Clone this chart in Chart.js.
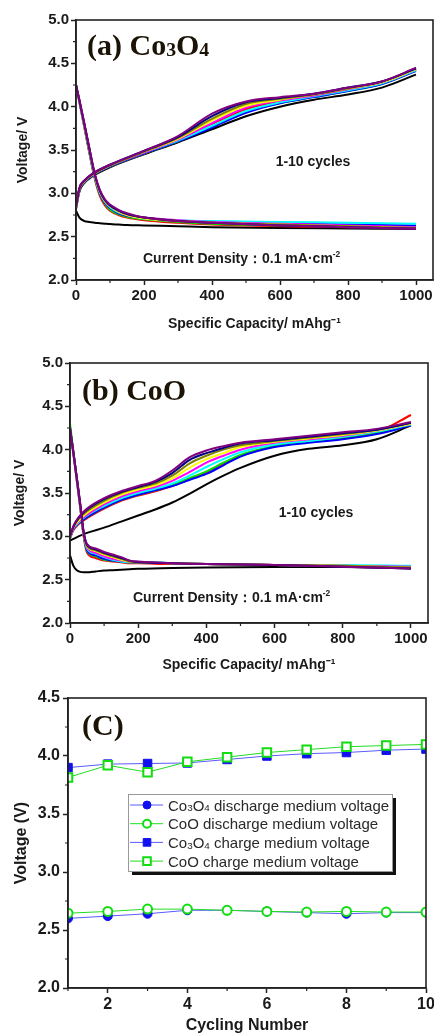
<!DOCTYPE html>
<html>
<head>
<meta charset="utf-8">
<script src="https://cdn.jsdelivr.net/npm/chart.js@4.4.1/dist/chart.umd.min.js"></script>
<style>
  body { margin: 0; background: #fff; width: 434px; height: 1034px; overflow: hidden; position: relative; }
  .panel { position: absolute; left: 0; width: 434px; }
</style>
</head>
<body>
<div class="panel" style="top:0;height:335px"><canvas id="chartA"></canvas></div>
<div class="panel" style="top:335px;height:345px"><canvas id="chartB"></canvas></div>
<div class="panel" style="top:680px;height:354px"><canvas id="chartC"></canvas></div>
<script>
// ---- data ----
const cycleColors = ["#000000", "#ff0000", "#00e000", "#0000ff", "#00ffff",
  "#ff00ff", "#ffff00", "#808000", "#000080", "#800080"];

// (a) Co3O4
const aChargeCap = [0, 10, 25, 50, 100, 200, 300, 400, 500, 600, 700, 800, 900, 1000];
const aCharge = [
  [2.82, 3.02, 3.12, 3.20, 3.30, 3.45, 3.59, 3.74, 3.89, 4.00, 4.08, 4.14, 4.22, 4.37],
  [2.83, 3.04, 3.13, 3.21, 3.31, 3.46, 3.61, 3.80, 3.97, 4.06, 4.12, 4.19, 4.27, 4.43],
  [2.83, 3.04, 3.13, 3.21, 3.31, 3.46, 3.60, 3.77, 3.94, 4.04, 4.11, 4.18, 4.26, 4.42],
  [2.83, 3.04, 3.13, 3.21, 3.31, 3.46, 3.60, 3.76, 3.93, 4.04, 4.11, 4.18, 4.26, 4.41],
  [2.84, 3.05, 3.14, 3.22, 3.32, 3.47, 3.61, 3.78, 3.95, 4.05, 4.12, 4.19, 4.27, 4.42],
  [2.84, 3.05, 3.14, 3.22, 3.32, 3.47, 3.62, 3.81, 3.99, 4.07, 4.13, 4.20, 4.28, 4.43],
  [2.84, 3.05, 3.14, 3.22, 3.32, 3.48, 3.63, 3.84, 4.01, 4.08, 4.14, 4.21, 4.28, 4.43],
  [2.85, 3.05, 3.14, 3.22, 3.32, 3.48, 3.64, 3.86, 4.03, 4.09, 4.14, 4.21, 4.29, 4.44],
  [2.85, 3.06, 3.15, 3.23, 3.33, 3.49, 3.65, 3.89, 4.05, 4.10, 4.15, 4.22, 4.29, 4.44],
  [2.85, 3.06, 3.15, 3.23, 3.33, 3.49, 3.66, 3.92, 4.06, 4.11, 4.15, 4.22, 4.29, 4.45]
];
const aDischargeCap = [0, 10, 25, 40, 55, 70, 85, 100, 125, 150, 200, 300, 400, 600, 800, 1000];
const aDischarge = [
  [2.80, 2.72, 2.68, 2.67, 2.66, 2.655, 2.65, 2.645, 2.64, 2.635, 2.63, 2.62, 2.61, 2.60, 2.595, 2.59],
  [4.25, 4.05, 3.75, 3.45, 3.17, 2.97, 2.86, 2.80, 2.75, 2.72, 2.69, 2.66, 2.64, 2.62, 2.61, 2.59],
  [4.25, 4.06, 3.76, 3.46, 3.18, 2.99, 2.88, 2.81, 2.76, 2.73, 2.70, 2.67, 2.65, 2.63, 2.62, 2.61],
  [4.25, 4.06, 3.77, 3.47, 3.19, 3.00, 2.89, 2.83, 2.77, 2.74, 2.71, 2.68, 2.66, 2.65, 2.64, 2.63],
  [4.25, 4.06, 3.77, 3.48, 3.20, 3.01, 2.90, 2.84, 2.78, 2.75, 2.71, 2.69, 2.68, 2.67, 2.66, 2.65],
  [4.25, 4.07, 3.78, 3.49, 3.21, 3.02, 2.91, 2.85, 2.79, 2.75, 2.72, 2.69, 2.67, 2.65, 2.63, 2.61],
  [4.25, 4.07, 3.78, 3.49, 3.21, 3.02, 2.91, 2.85, 2.79, 2.75, 2.71, 2.68, 2.66, 2.64, 2.62, 2.60],
  [4.25, 4.07, 3.79, 3.50, 3.22, 3.03, 2.92, 2.86, 2.80, 2.76, 2.72, 2.68, 2.66, 2.64, 2.62, 2.60],
  [4.25, 4.07, 3.79, 3.50, 3.22, 3.03, 2.92, 2.86, 2.80, 2.76, 2.72, 2.68, 2.66, 2.63, 2.61, 2.59],
  [4.25, 4.08, 3.80, 3.51, 3.23, 3.04, 2.93, 2.87, 2.81, 2.77, 2.72, 2.68, 2.66, 2.63, 2.61, 2.59]
];

// (b) CoO
const bChargeCap = [0, 10, 25, 50, 100, 150, 200, 250, 300, 350, 400, 450, 500, 600, 700, 800, 900, 1000];
const bCharge = [
  [2.95, 2.97, 3.00, 3.04, 3.10, 3.17, 3.24, 3.31, 3.39, 3.49, 3.60, 3.70, 3.79, 3.93, 4.01, 4.05, 4.12, 4.28],
  [2.98, 3.07, 3.14, 3.21, 3.32, 3.41, 3.47, 3.52, 3.58, 3.66, 3.74, 3.84, 3.93, 4.04, 4.09, 4.13, 4.20, 4.40],
  [2.98, 3.08, 3.15, 3.22, 3.33, 3.42, 3.48, 3.53, 3.59, 3.67, 3.75, 3.85, 3.94, 4.04, 4.09, 4.13, 4.19, 4.29],
  [2.98, 3.08, 3.15, 3.22, 3.33, 3.42, 3.48, 3.53, 3.58, 3.65, 3.72, 3.82, 3.92, 4.03, 4.08, 4.12, 4.18, 4.28],
  [2.99, 3.09, 3.16, 3.24, 3.35, 3.44, 3.50, 3.55, 3.61, 3.70, 3.80, 3.89, 3.97, 4.06, 4.10, 4.15, 4.21, 4.29],
  [2.99, 3.09, 3.17, 3.25, 3.37, 3.46, 3.52, 3.57, 3.64, 3.74, 3.85, 3.93, 4.00, 4.08, 4.12, 4.16, 4.22, 4.30],
  [2.99, 3.10, 3.18, 3.27, 3.39, 3.48, 3.54, 3.59, 3.67, 3.79, 3.89, 3.96, 4.03, 4.09, 4.13, 4.17, 4.22, 4.30],
  [3.00, 3.11, 3.20, 3.29, 3.41, 3.50, 3.56, 3.61, 3.70, 3.84, 3.93, 4.00, 4.05, 4.10, 4.14, 4.18, 4.23, 4.31],
  [3.00, 3.11, 3.21, 3.31, 3.43, 3.51, 3.57, 3.63, 3.73, 3.88, 3.96, 4.02, 4.07, 4.11, 4.15, 4.19, 4.23, 4.31],
  [3.00, 3.12, 3.22, 3.32, 3.44, 3.52, 3.58, 3.64, 3.76, 3.91, 3.99, 4.04, 4.08, 4.12, 4.16, 4.20, 4.24, 4.32]
];
const bDischargeCap = [0, 10, 20, 30, 40, 50, 75, 100, 125, 150, 175, 200, 300, 400, 600, 800, 1000];
const bDischarge = [
  [2.78, 2.66, 2.61, 2.59, 2.585, 2.585, 2.595, 2.605, 2.61, 2.615, 2.62, 2.625, 2.635, 2.64, 2.645, 2.645, 2.63],
  [4.25, 3.95, 3.64, 3.33, 3.00, 2.81, 2.75, 2.72, 2.71, 2.70, 2.69, 2.69, 2.68, 2.68, 2.67, 2.66, 2.64],
  [4.30, 3.98, 3.66, 3.34, 3.01, 2.83, 2.77, 2.73, 2.72, 2.71, 2.70, 2.70, 2.69, 2.68, 2.67, 2.66, 2.65],
  [4.25, 3.95, 3.65, 3.34, 3.02, 2.84, 2.78, 2.74, 2.72, 2.71, 2.70, 2.70, 2.69, 2.68, 2.67, 2.66, 2.65],
  [4.25, 3.96, 3.66, 3.35, 3.03, 2.86, 2.80, 2.76, 2.73, 2.71, 2.70, 2.70, 2.69, 2.68, 2.67, 2.67, 2.66],
  [4.25, 3.96, 3.66, 3.35, 3.03, 2.87, 2.81, 2.77, 2.74, 2.72, 2.71, 2.70, 2.69, 2.68, 2.67, 2.66, 2.65],
  [4.25, 3.96, 3.66, 3.36, 3.04, 2.88, 2.83, 2.79, 2.76, 2.73, 2.71, 2.70, 2.69, 2.68, 2.67, 2.66, 2.64],
  [4.25, 3.96, 3.67, 3.36, 3.04, 2.89, 2.84, 2.80, 2.77, 2.74, 2.71, 2.70, 2.69, 2.68, 2.67, 2.66, 2.64],
  [4.25, 3.97, 3.67, 3.37, 3.05, 2.90, 2.85, 2.81, 2.78, 2.75, 2.72, 2.70, 2.69, 2.68, 2.67, 2.65, 2.63],
  [4.25, 3.97, 3.68, 3.38, 3.05, 2.91, 2.86, 2.82, 2.79, 2.76, 2.72, 2.71, 2.69, 2.68, 2.67, 2.65, 2.63]
];

// (C) medium voltages
const cycles = [1, 2, 3, 4, 5, 6, 7, 8, 9, 10];
const co3o4Discharge = [2.60, 2.62, 2.64, 2.67, 2.67, 2.66, 2.65, 2.64, 2.65, 2.65];
const cooDischarge = [2.645, 2.66, 2.68, 2.68, 2.67, 2.66, 2.655, 2.66, 2.655, 2.655];
const co3o4Charge = [3.90, 3.93, 3.935, 3.94, 3.97, 4.00, 4.02, 4.03, 4.05, 4.06];
const cooCharge = [3.815, 3.92, 3.86, 3.95, 3.99, 4.03, 4.055, 4.08, 4.09, 4.10];
const seriesLabels = ["Co₃O₄ discharge medium voltage", "CoO discharge medium voltage",
  "Co₃O₄ charge medium voltage", "CoO charge medium voltage"];

// tick values
const capTicks = [0, 200, 400, 600, 800, 1000];
const capMinor = [100, 300, 500, 700, 900];
const voltTicks = [2.0, 2.5, 3.0, 3.5, 4.0, 4.5, 5.0];
const voltMinor = [2.25, 2.75, 3.25, 3.75, 4.25, 4.75];
const cycleTicks = [2, 4, 6, 8, 10];
const cycleMinor = [1, 3, 5, 7, 9];
const voltTicksC = [2.0, 2.5, 3.0, 3.5, 4.0, 4.5];
const voltMinorC = [2.25, 2.75, 3.25, 3.75, 4.25];

Chart.defaults.font.family = "'Liberation Sans', Arial, sans-serif";
Chart.defaults.color = "#1a1a1a";
Chart.defaults.animation = false;

// text with small sub/superscript digits
const smallMap = { "₃": ["3", 0.66, 0.04], "₄": ["4", 0.66, 0.04], "⁻": ["-", 0.6, -0.4], "²": ["2", 0.6, -0.4] };
function richWidth(ctx, text, size, weight, family) {
  let w = 0;
  for (const ch of text) {
    const s = smallMap[ch];
    ctx.font = `${weight} ${s ? size * s[1] : size}px ${family}`;
    w += ctx.measureText(s ? s[0] : ch).width;
  }
  return w;
}
function drawRich(ctx, text, x, y, size, weight, family, color, align) {
  if (align === "center") x -= richWidth(ctx, text, size, weight, family) / 2;
  ctx.save();
  ctx.fillStyle = color;
  ctx.textBaseline = "alphabetic";
  ctx.textAlign = "left";
  for (const ch of text) {
    const s = smallMap[ch];
    ctx.font = `${weight} ${s ? size * s[1] : size}px ${family}`;
    const t = s ? s[0] : ch;
    ctx.fillText(t, x, y + (s ? size * s[2] : 0));
    x += ctx.measureText(t).width;
  }
  ctx.restore();
}

const framePlugin = {
  id: "frame",
  afterDraw(chart, args, opts) {
    const { ctx, chartArea: a, scales } = chart;
    ctx.save();
    ctx.strokeStyle = "#222";
    ctx.lineWidth = 1.6;
    ctx.strokeRect(a.left, a.top, a.right - a.left, a.bottom - a.top);
    ctx.lineWidth = 1.2;
    ctx.beginPath();
    opts.xMinor.forEach(v => {
      const px = scales.x.getPixelForValue(v);
      ctx.moveTo(px, a.bottom); ctx.lineTo(px, a.bottom + 3);
    });
    opts.yMinor.forEach(v => {
      const py = scales.y.getPixelForValue(v);
      ctx.moveTo(a.left, py); ctx.lineTo(a.left - 3, py);
    });
    ctx.stroke();
    ctx.restore();
    (opts.notes || []).forEach(n =>
      drawRich(ctx, n.text, n.x, n.y, n.size, n.weight, n.family, n.color, n.align));
  }
};

const legendPlugin = {
  id: "boxLegend",
  afterDraw(chart, args, opts) {
    if (!opts.display) return;
    const ctx = chart.ctx;
    const { x, y, w, h } = opts;
    ctx.save();
    ctx.fillStyle = "#111";
    ctx.fillRect(x + 4, y + 4, w, h);
    ctx.fillStyle = "#fff";
    ctx.fillRect(x, y, w, h);
    ctx.strokeStyle = "#999";
    ctx.lineWidth = 1;
    ctx.strokeRect(x + 0.5, y + 0.5, w, h);
    chart.data.datasets.forEach((ds, i) => {
      const cy = y + 11 + i * 18.7;
      ctx.strokeStyle = ds.borderColor;
      ctx.lineWidth = 1;
      ctx.beginPath(); ctx.moveTo(x + 2, cy); ctx.lineTo(x + 35, cy); ctx.stroke();
      const mx = x + 19;
      ctx.fillStyle = ds.pointBackgroundColor;
      ctx.strokeStyle = ds.pointBorderColor;
      ctx.lineWidth = ds.pointBorderWidth;
      ctx.beginPath();
      if (ds.pointStyle === "circle") ctx.arc(mx, cy, 4, 0, Math.PI * 2);
      else ctx.rect(mx - 3.8, cy - 3.8, 7.6, 7.6);
      ctx.fill(); ctx.stroke();
      drawRich(ctx, ds.label, x + 40, cy + 5.5, 15, "normal", "'Liberation Sans', Arial", "#2a2a2a");
    });
    ctx.restore();
  }
};

function curveSets(chargeCap, charge, dischargeCap, discharge) {
  const sets = [];
  charge.forEach((vals, k) => sets.push({
    label: "charge " + (k + 1),
    data: chargeCap.map((c, i) => ({ x: c, y: vals[i] })),
    borderColor: cycleColors[k], order: -k
  }));
  discharge.forEach((vals, k) => sets.push({
    label: "discharge " + (k + 1),
    data: dischargeCap.map((c, i) => ({ x: c, y: vals[i] })),
    borderColor: cycleColors[k], order: -k
  }));
  return sets.map(s => Object.assign(s, {
    borderWidth: 2, pointRadius: 0, cubicInterpolationMode: "monotone", fill: false
  }));
}

function axes(o) {
  const tickFont = { size: o.fs, weight: "bold" };
  const gridOpts = { display: true, drawOnChartArea: false, drawTicks: true, tickLength: 5, tickColor: "#222", tickWidth: 1.5 };
  const borderOpts = { display: true, color: "#222", width: 1.6 };
  return {
    x: {
      type: "linear", min: o.xMin, max: o.xMax,
      afterBuildTicks: s => { s.ticks = o.xTicks.map(v => ({ value: v })); },
      afterFit: s => { s.height = o.xH; s.paddingLeft = 0; s.paddingRight = 0; },
      grid: gridOpts, border: borderOpts,
      ticks: { padding: 2, font: tickFont, maxRotation: 0, autoSkip: false, callback: v => String(v) },
      title: { display: true, text: o.xTitle, font: { size: o.tfs, weight: "bold", lineHeight: 1 }, padding: { top: 0, bottom: o.xTitlePad } }
    },
    y: {
      type: "linear", min: o.yMin, max: o.yMax,
      afterBuildTicks: s => { s.ticks = o.yTicks.map(v => ({ value: v })); },
      afterFit: s => { s.width = o.yW; s.paddingTop = 0; s.paddingBottom = 0; },
      grid: gridOpts, border: borderOpts,
      ticks: { padding: o.yPad, font: tickFont, autoSkip: false, callback: v => v.toFixed(1) },
      title: { display: true, text: o.yTitle, font: { size: o.tfs, weight: "bold", lineHeight: 1 }, padding: { top: o.yTitlePad, bottom: 0 } }
    }
  };
}

const serif = "'Liberation Serif', 'Times New Roman', serif";
const sans = "'Liberation Sans', Arial, sans-serif";
const titleColor = "#1b1305";

new Chart(document.getElementById("chartA"), {
  type: "line",
  data: { datasets: curveSets(aChargeCap, aCharge, aDischargeCap, aDischarge) },
  options: {
    responsive: true, maintainAspectRatio: false,
    layout: { padding: { left: 0, top: 20, right: 1, bottom: 0 } },
    scales: axes({ xMin: 0, xMax: 1050, xTicks: capTicks, yMin: 2, yMax: 5, yTicks: voltTicks,
      xH: 55, yW: 76, fs: 15, tfs: 14, yPad: 2, xTitlePad: 4, yTitlePad: 16,
      xTitle: "Specific Capacity/ mAhg⁻¹", yTitle: "Voltage/ V" }),
    plugins: {
      legend: { display: false }, tooltip: { enabled: false },
      frame: { xMinor: capMinor, yMinor: voltMinor, notes: [
        { text: "(a) Co₃O₄", x: 87, y: 55, size: 30, weight: "bold", family: serif, color: titleColor },
        { text: "1-10 cycles", x: 313, y: 166, size: 14, weight: "bold", family: sans, color: "#1a1a1a", align: "center" },
        { text: "Current Density：0.1 mA·cm⁻²", x: 143, y: 263, size: 14, weight: "bold", family: sans, color: "#1a1a1a" }
      ] },
      boxLegend: { display: false }
    }
  },
  plugins: [framePlugin, legendPlugin]
});

new Chart(document.getElementById("chartB"), {
  type: "line",
  data: { datasets: curveSets(bChargeCap, bCharge, bDischargeCap, bDischarge) },
  options: {
    responsive: true, maintainAspectRatio: false,
    layout: { padding: { left: 0, top: 28, right: 6, bottom: 0 } },
    scales: axes({ xMin: 0, xMax: 1050, xTicks: capTicks, yMin: 2, yMax: 5, yTicks: voltTicks,
      xH: 57, yW: 70, fs: 15, tfs: 14, yPad: 2, xTitlePad: 8, yTitlePad: 13,
      xTitle: "Specific Capacity/ mAhg⁻¹", yTitle: "Voltage/ V" }),
    plugins: {
      legend: { display: false }, tooltip: { enabled: false },
      frame: { xMinor: capMinor, yMinor: voltMinor, notes: [
        { text: "(b) CoO", x: 82, y: 65, size: 30, weight: "bold", family: serif, color: titleColor },
        { text: "1-10 cycles", x: 316, y: 182, size: 14, weight: "bold", family: sans, color: "#1a1a1a", align: "center" },
        { text: "Current Density：0.1 mA·cm⁻²", x: 133, y: 267, size: 14, weight: "bold", family: sans, color: "#1a1a1a" }
      ] },
      boxLegend: { display: false }
    }
  },
  plugins: [framePlugin, legendPlugin]
});

const blueLine = "#5a5aff", blueMark = "#1010f0", greenLine = "#22dd22", greenMark = "#11dd11";
new Chart(document.getElementById("chartC"), {
  type: "line",
  data: {
    labels: cycles,
    datasets: [
      { label: seriesLabels[0], data: cycles.map((c, i) => ({ x: c, y: co3o4Discharge[i] })),
        borderColor: blueLine, pointStyle: "circle", pointRadius: 4.5, pointBackgroundColor: blueMark,
        pointBorderColor: blueMark, pointBorderWidth: 1, order: 2 },
      { label: seriesLabels[1], data: cycles.map((c, i) => ({ x: c, y: cooDischarge[i] })),
        borderColor: greenLine, pointStyle: "circle", pointRadius: 4.5, pointBackgroundColor: "#ffffff",
        pointBorderColor: greenMark, pointBorderWidth: 2, order: 1 },
      { label: seriesLabels[2], data: cycles.map((c, i) => ({ x: c, y: co3o4Charge[i] })),
        borderColor: blueLine, pointStyle: "rect", pointRadius: 6, pointBackgroundColor: blueMark,
        pointBorderColor: blueMark, pointBorderWidth: 1, order: 2 },
      { label: seriesLabels[3], data: cycles.map((c, i) => ({ x: c, y: cooCharge[i] })),
        borderColor: greenLine, pointStyle: "rect", pointRadius: 6, pointBackgroundColor: "#ffffff",
        pointBorderColor: greenMark, pointBorderWidth: 2, order: 1 }
    ].map(s => Object.assign(s, { borderWidth: 1, fill: false, tension: 0, clip: 0 }))
  },
  options: {
    responsive: true, maintainAspectRatio: false,
    layout: { padding: { left: 0, top: 18, right: 6, bottom: 0 } },
    scales: axes({ xMin: 1, xMax: 10, xTicks: cycleTicks, yMin: 2, yMax: 4.5, yTicks: voltTicksC,
      xH: 46, yW: 68, fs: 16, tfs: 16, yPad: 3, xTitlePad: 0, yTitlePad: 14,
      xTitle: "Cycling Number", yTitle: "Voltage (V)" }),
    plugins: {
      legend: { display: false }, tooltip: { enabled: false },
      frame: { xMinor: cycleMinor, yMinor: voltMinorC, notes: [
        { text: "(C)", x: 82, y: 55, size: 30, weight: "bold", family: serif, color: titleColor }
      ] },
      boxLegend: { display: true, x: 128, y: 114, w: 264, h: 77 }
    }
  },
  plugins: [framePlugin, legendPlugin]
});
</script>
</body>
</html>
